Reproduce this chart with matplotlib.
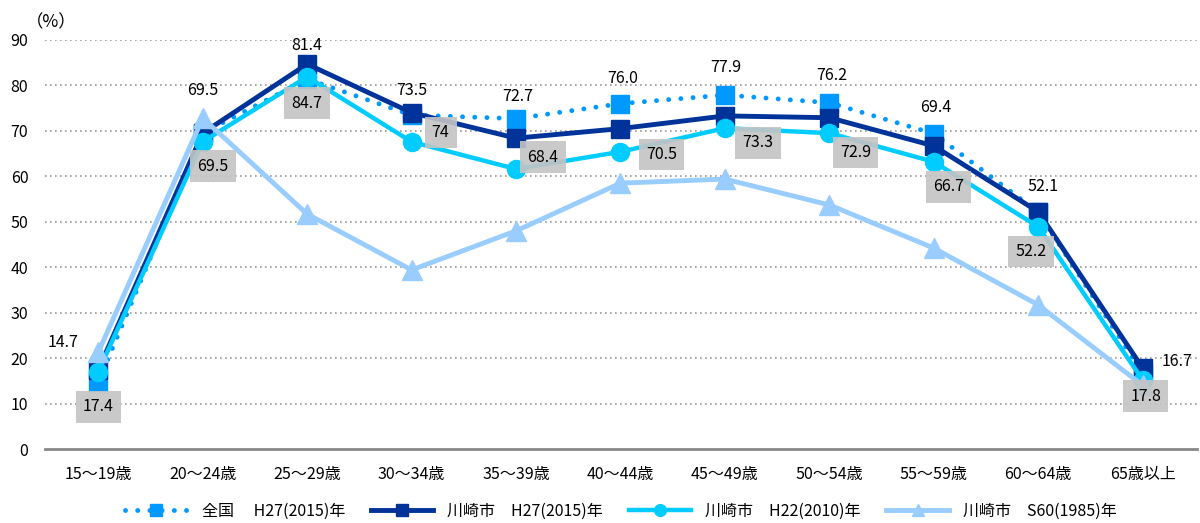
import numpy as np
import matplotlib
matplotlib.use("Agg")
from matplotlib import pyplot as plt

plt.rcParams['font.family'] = ['Noto Sans CJK JP', 'DejaVu Sans']

# Age groups and labour force participation rates (%)
categories = ['15〜19歳', '20〜24歳', '25〜29歳', '30〜34歳', '35〜39歳', '40〜44歳',
              '45〜49歳', '50〜54歳', '55〜59歳', '60〜64歳', '65歳以上']
zenkoku_h27 = [14.7, 69.5, 81.4, 73.5, 72.7, 76.0, 77.9, 76.2, 69.4, 52.1, 16.7]
kawasaki_h27 = [17.4, 69.5, 84.7, 74.0, 68.4, 70.5, 73.3, 72.9, 66.7, 52.2, 17.8]
kawasaki_h22 = [17.0, 67.6, 81.9, 67.6, 61.6, 65.4, 70.6, 69.5, 63.2, 48.9, 15.2]
kawasaki_s60 = [21.3, 72.8, 51.7, 39.4, 48.0, 58.5, 59.4, 53.7, 44.2, 31.7, 14.0]

series_names = ['全国　 H27(2015)年', '川崎市　H27(2015)年', '川崎市　H22(2010)年', '川崎市　S60(1985)年']
yticks = [0, 10, 20, 30, 40, 50, 60, 70, 80, 90]

# label offsets in pixels
plain_off = [(-35, 40), (0, 43), (0, 34), (0, 24), (2, 22), (2, 25), (1, 27),
             (2, 27), (2, 26), (5, 26), (34, 12)]
box_off = [(0, -37), (10, -33), (0, -39), (29, -20), (27, -19), (41, -26),
           (33, -27), (26, -35), (15, -41), (-7, -40), (3, -28)]

fig = plt.figure(figsize=(12, 5.23), dpi=100)
ax = fig.add_axes([45 / 1200, 74 / 523, 1152 / 1200, 409 / 523])
x = np.arange(len(categories))

ax.plot(x, zenkoku_h27, color='#0099FF', lw=3.5, linestyle=(0, (0.01, 2.5)),
        dash_capstyle='round', marker='s', markersize=13, label=series_names[0], zorder=3)
ax.plot(x, kawasaki_h27, color='#003399', lw=3.5, marker='s', markersize=13,
        label=series_names[1], zorder=4)
ax.plot(x, kawasaki_h22, color='#00CCFF', lw=3.2, marker='o', markersize=13,
        label=series_names[2], zorder=5)
ax.plot(x, kawasaki_s60, color='#99CCFF', lw=3.5, marker='^', markersize=14,
        label=series_names[3], zorder=6)

for i in range(len(categories)):
    ax.annotate('%.1f' % zenkoku_h27[i], (x[i], zenkoku_h27[i]), xytext=plain_off[i],
                textcoords='offset pixels', ha='center', va='center', fontsize=11.5, zorder=8)
    v = kawasaki_h27[i]
    txt = '%g' % v if v == int(v) else '%.1f' % v
    ax.annotate(txt, (x[i], v), xytext=box_off[i], textcoords='offset pixels',
                ha='center', va='center', fontsize=11.5, zorder=8,
                bbox=dict(boxstyle='square,pad=0.45', fc='#C4C4C4', ec='none', alpha=0.9))

ax.set_xlim(-0.51, 10.52)
ax.set_ylim(0, 90)
ax.set_yticks(yticks)
ax.set_xticks(x)
ax.set_xticklabels(categories, fontsize=11.5)
ax.tick_params(axis='both', length=0, labelsize=11.5)
ax.tick_params(axis='x', pad=12)
ax.tick_params(axis='y', pad=12)
for yv in yticks[1:]:
    ax.axhline(yv, color='#999999', lw=1.2, linestyle=(0, (1, 2)), zorder=1)
for s in ['left', 'right', 'top']:
    ax.spines[s].set_visible(False)
ax.spines['bottom'].set_color('#888888')
ax.spines['bottom'].set_linewidth(2)

fig.text(26 / 1200, 1 - 22 / 523, '（%）', fontsize=12.5, ha='left', va='center')

ax.legend(loc='center', bbox_to_anchor=(0.5, -0.153), ncol=4, frameon=False,
          fontsize=11.5, handlelength=3.9, columnspacing=1.6, handletextpad=0.9,
          markerscale=0.65)

fig.savefig('out.png', dpi=100)
